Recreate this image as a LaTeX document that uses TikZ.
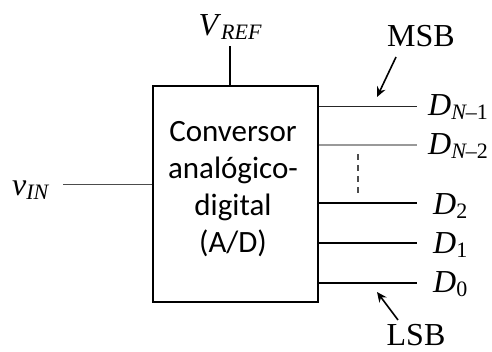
\documentclass[tikz,border=0pt]{standalone}
\usepackage{fontspec}
\setmainfont{Liberation Serif}
\newfontfamily\boxfont{Carlito}
\usetikzlibrary{arrows.meta}
\newcommand{\lsub}[1]{\raisebox{-0.3ex}{\fontsize{22}{22}\selectfont\itshape #1}}
\newcommand{\nsub}[1]{\raisebox{-0.3ex}{\fontsize{22}{22}\selectfont #1}}
\tikzset{
  x=1pt, y=-1pt,
  lab/.style={inner sep=0pt, font=\fontsize{32}{32}\selectfont},
  outline/.style={line width=1.8pt, black},
  busthick/.style={line width=2.2pt, black},
  pointer/.style={line width=1.6pt, -{Stealth[length=10pt,width=9pt]}},
}
\begin{document}
\begin{tikzpicture}
\useasboundingbox (0,0) rectangle (492,351);
\node[draw, outline, minimum width=165pt, minimum height=216pt, inner sep=0pt] (adc) at (235.5,194) {};
\node[align=center, font=\boxfont\fontsize{31}{37}\selectfont, color=black] (txt) at (233,189)
  {Conversor\\analógico-\\digital\\(A/D)};
% V_REF
\node[lab, anchor=base] (vref) at (230,35) {\textit{V}\lsub{REF}};
\coordinate (vreftop) at (230,46);
\draw[outline] (vreftop) -- (vreftop |- adc.north);
% v_IN
\node[lab, anchor=base west] (vin) at (12,195) {\textit{v}\lsub{IN}};
\coordinate (vinend) at (63,184);
\draw[line width=1pt, black!70] (vinend) -- (vinend -| adc.west);
% outputs
\coordinate (o1) at (417,106);
\coordinate (o2) at (417,145);
\coordinate (o3) at (417,203);
\coordinate (o4) at (417,243);
\coordinate (o5) at (417,283);
\draw[line width=1pt, black!85] (o1 -| adc.east) -- (o1);
\draw[line width=2.2pt, black!40] (o2 -| adc.east) -- (o2);
\draw[busthick] (o3 -| adc.east) -- (o3);
\draw[busthick] (o4 -| adc.east) -- (o4);
\draw[busthick] (o5 -| adc.east) -- (o5);
\node[lab, anchor=base west] (d1) at (428,115) {\textit{D}\lsub{N}\nsub{–1}};
\node[lab, anchor=base west] (d2) at (428,154) {\textit{D}\lsub{N}\nsub{–2}};
\node[lab, anchor=base west] (d3) at (433,214) {\textit{D}\nsub{2}};
\node[lab, anchor=base west] (d4) at (433,253) {\textit{D}\nsub{1}};
\node[lab, anchor=base west] (d5) at (433,292) {\textit{D}\nsub{0}};
% dots
\coordinate (dt) at (358,154);
\coordinate (db) at (358,194);
\draw[line width=1.1pt, black!70, dash pattern=on 6pt off 5pt] (dt) -- (db);
% MSB / LSB
\node[lab, anchor=base] (msb) at (421,46) {MSB};
\coordinate (msbtip) at (377,97);
\coordinate (msbtail) at (396,57);
\draw[pointer] (msbtail) -- (msbtip);
\node[lab, anchor=base] (lsb) at (416,345) {LSB};
\coordinate (lsbtip) at (377,292);
\coordinate (lsbtail) at (398,320);
\draw[pointer] (lsbtail) -- (lsbtip);
\end{tikzpicture}
\end{document}
